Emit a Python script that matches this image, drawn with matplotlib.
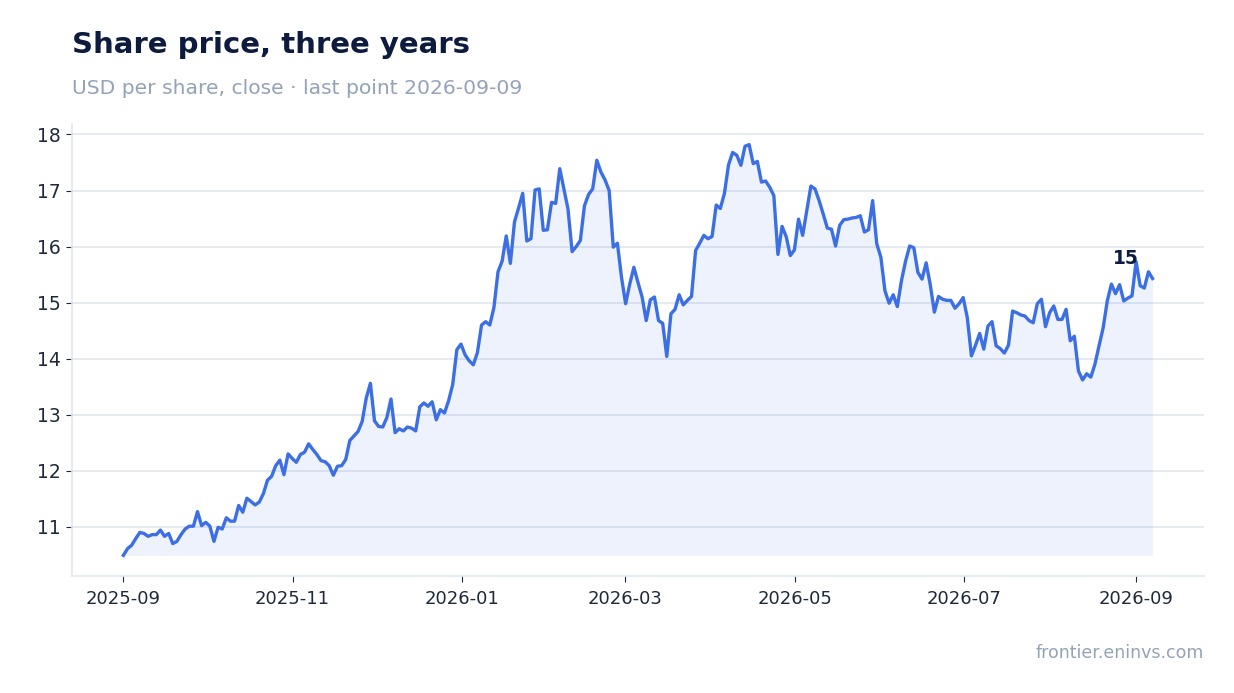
import numpy as np
import pandas as pd
import matplotlib
matplotlib.use("Agg")
import matplotlib.pyplot as plt
import matplotlib.dates as mdates

# --- data (~every trading day) ---
start_date = "2025-09-01"
end_date = "2026-09-07"

close = [
    10.49, 10.61, 10.67, 10.79, 10.90, 10.88, 10.83, 10.86, 10.86, 10.94, 10.83, 10.88, 10.70, 10.74,
    10.86, 10.96, 11.01, 11.01, 11.27, 11.02, 11.08, 11.01, 10.74, 10.99, 10.96, 11.16, 11.10, 11.10,
    11.38, 11.26, 11.51, 11.45, 11.39, 11.44, 11.59, 11.83, 11.90, 12.09, 12.19, 11.93, 12.30, 12.22,
    12.15, 12.29, 12.33, 12.48, 12.38, 12.29, 12.18, 12.16, 12.09, 11.92, 12.08, 12.09, 12.20, 12.54,
    12.62, 12.70, 12.88, 13.30, 13.56, 12.89, 12.79, 12.78, 12.95, 13.28, 12.68, 12.75, 12.71, 12.78,
    12.76, 12.71, 13.14, 13.21, 13.15, 13.23, 12.91, 13.09, 13.03, 13.25, 13.54, 14.16, 14.26, 14.07,
    13.96, 13.89, 14.11, 14.60, 14.66, 14.60, 14.91, 15.55, 15.74, 16.19, 15.70, 16.44, 16.69,
    16.95, 16.10, 16.14, 17.01, 17.03, 16.29, 16.30, 16.79, 16.77, 17.39, 17.03, 16.67, 15.91, 16.00,
    16.11, 16.73, 16.93, 17.03, 17.54, 17.33, 17.19, 17.00, 15.99, 16.06, 15.45, 14.98, 15.33, 15.63,
    15.36, 15.10, 14.68, 15.05, 15.10, 14.68, 14.63, 14.04, 14.80, 14.88, 15.14, 14.96, 15.04, 15.11,
    15.93, 16.06, 16.20, 16.14, 16.18, 16.74, 16.68,
    16.95, 17.46, 17.68, 17.63, 17.45, 17.79, 17.82, 17.48, 17.52, 17.15, 17.17, 17.06, 16.91, 15.86,
    16.36, 16.18, 15.84, 15.94, 16.49, 16.20, 16.64, 17.08, 17.03, 16.82, 16.58, 16.33, 16.31, 16.01,
    16.38, 16.48, 16.49, 16.51, 16.52, 16.55, 16.26, 16.30, 16.82, 16.05, 15.81, 15.21, 14.99, 15.14,
    14.93,
    15.39, 15.74, 16.01, 15.98, 15.54, 15.42, 15.71, 15.32, 14.83, 15.11, 15.06, 15.04, 15.04, 14.90,
    14.98, 15.09, 14.73, 14.05, 14.24, 14.45, 14.17, 14.58, 14.66, 14.23, 14.18, 14.10, 14.24, 14.85,
    14.82, 14.78, 14.76, 14.68,
    14.64, 14.98, 15.06, 14.57, 14.82, 14.94, 14.70, 14.70, 14.88, 14.32, 14.40, 13.78, 13.62, 13.73,
    13.67, 13.90, 14.23, 14.55, 15.03, 15.33, 15.16, 15.32, 15.03, 15.08, 15.12, 15.73, 15.30, 15.26,
    15.55, 15.43,
]

title = "Share price, three years"
subtitle = "USD per share, close \u00b7 last point 2026-09-09"
source = "frontier.eninvs.com"

dates = pd.date_range(start_date, end_date, periods=len(close))
y = np.array(close)

LINE = "#3b6fe3"
NAVY = "#0d1b3e"
GREY = "#94a3b8"
GRID = "#e2e8f0"

fig = plt.figure(figsize=(12.34, 6.93), dpi=100)
ax = fig.add_axes([0.0583, 0.169, 0.9174, 0.652])

ax.fill_between(dates, y, y.min(), color=LINE, alpha=0.09, linewidth=0)
ax.plot(dates, y, color=LINE, linewidth=2.4, solid_joinstyle="round")

ax.set_yticks([11, 12, 13, 14, 15, 16, 17, 18])
ax.grid(axis="y", color=GRID, linewidth=1.2)
ax.set_axisbelow(True)
ax.xaxis.set_major_locator(mdates.MonthLocator(bymonth=[1, 3, 5, 7, 9, 11]))
ax.xaxis.set_major_formatter(mdates.DateFormatter("%Y-%m"))

for s in ["top", "right"]:
    ax.spines[s].set_visible(False)
for s in ["left", "bottom"]:
    ax.spines[s].set_color(GRID)
    ax.spines[s].set_linewidth(1.2)

ax.tick_params(axis="y", labelsize=13.5, colors="#1e293b", length=4, pad=4)
ax.tick_params(axis="x", labelsize=13, colors="#1e293b", length=4, pad=6)

# label for the last value
ax.annotate(f"{y[-1]:.0f}", xy=(dates[-1], y[-1]), xytext=(-27, 15),
            textcoords="offset pixels", ha="center", va="baseline",
            fontsize=13.5, fontweight="bold", color=NAVY)

fig.text(0.0583, 1 - 53 / 693, title, fontsize=21, fontweight="bold", color=NAVY, va="baseline")
fig.text(0.0583, 1 - 94 / 693, subtitle, fontsize=14.6, color=GREY, va="baseline")
fig.text(0.9757, 1 - 658 / 693, source, fontsize=12.5, color=GREY, ha="right", va="baseline")

fig.savefig("out.png", dpi=100)
